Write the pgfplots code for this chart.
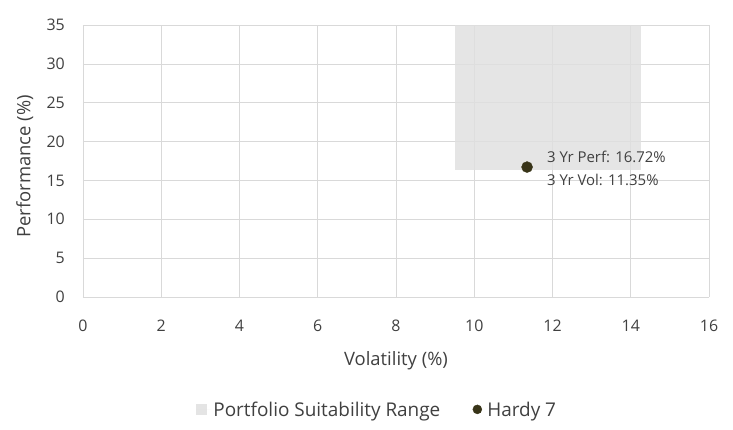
\documentclass[border=0pt]{standalone}
\usepackage{fontspec}
\setmainfont{Open Sans}
\usepackage{pgfplots}
\pgfplotsset{compat=1.18}
\definecolor{txt}{RGB}{64,64,64}
\definecolor{gridc}{RGB}{217,217,217}
\definecolor{rangec}{RGB}{224,224,224}
\definecolor{dotc}{RGB}{56,52,24}
\begin{document}
\begin{tikzpicture}
\path[use as bounding box] (-83bp,-133bp) rectangle (650bp,297bp);
\begin{axis}[
  scale only axis,
  width=626bp, height=272bp,
  xmin=0, xmax=16, ymin=0, ymax=35,
  xtick={0,2,...,16}, ytick={0,5,...,35},
  grid=major,
  major grid style={gridc, line width=0.6pt},
  axis line style={gridc, line width=0.8pt},
  axis x line*=bottom, axis y line*=left,
  tick style={draw=none},
  /pgf/number format/assume math mode=true,
  ticklabel style={font=\fontsize{16}{18}\selectfont, text=txt, inner sep=0pt},
  xticklabel style={anchor=center, yshift=-29bp},
  yticklabel style={anchor=east, xshift=-18bp},
  xlabel={Volatility (\%)},
  ylabel={Performance (\%)},
  label style={font=\fontsize{18.5}{21}\selectfont, text=txt},
  xlabel style={at={(axis description cs:0.5,-0.235)}, anchor=center},
  ylabel style={at={(axis description cs:-0.093,0.48)}, anchor=center},
  legend columns=2,
  legend style={at={(axis description cs:0.47,-0.415)}, anchor=center, draw=none,
    font=\fontsize{19}{22}\selectfont, text=txt,
    /tikz/every even column/.append style={column sep=30bp}},
  legend cell align=left,
  clip=true,
]
\addplot[draw=none, fill=rangec, fill opacity=0.85,
  legend image code/.code={\fill[rangec] (-5bp,-5bp) rectangle (6bp,6bp); \path[draw=none] (-5bp,0bp) -- (10bp,0bp);}]
  coordinates {(9.5,16.3) (14.25,16.3) (14.25,35) (9.5,35)} -- cycle;
\addlegendentry{Portfolio Suitability Range}
\addplot[only marks, mark=*, mark size=5.5bp, mark options={fill=dotc, draw=dotc},
  legend image code/.code={\fill[dotc] (2bp,0.5bp) circle (4.5bp); \path[draw=none] (-3bp,0bp) -- (10bp,0bp);}]
  coordinates {(11.35,16.72)};
\addlegendentry{Hardy 7}
\node[anchor=west, text=txt, font=\fontsize{15}{17}\selectfont, inner sep=0pt]
  at (axis cs:11.86,18.0) {3 Yr Perf: 16.72\%};
\node[anchor=west, text=txt, font=\fontsize{15}{17}\selectfont, inner sep=0pt]
  at (axis cs:11.86,15.05) {3 Yr Vol: 11.35\%};
\end{axis}
\end{tikzpicture}
\end{document}
